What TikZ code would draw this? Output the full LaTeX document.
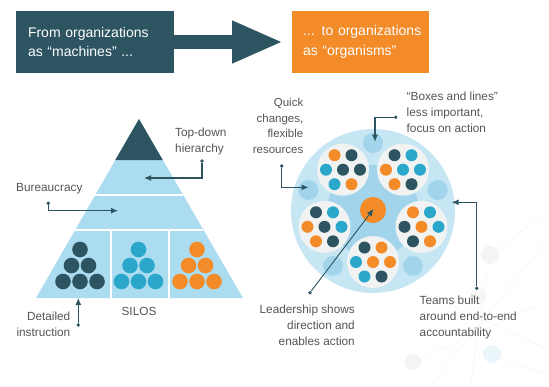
\documentclass[tikz,border=0pt]{standalone}
\usepackage{fontspec}
\setmainfont{Liberation Sans}
\usetikzlibrary{positioning,arrows.meta}

\definecolor{slate}{HTML}{2C5461}
\definecolor{orgorange}{HTML}{F28B28}
\definecolor{orgteal}{HTML}{2BA7CB}
\definecolor{pyrblue}{HTML}{ABDCEF}
\definecolor{rimblue}{HTML}{C6E6F4}
\definecolor{coreblue}{HTML}{A2D4EB}
\definecolor{teamgrey}{HTML}{F1F2F2}
\definecolor{labelgrey}{HTML}{555555}

\tikzset{
  headbox/.style={rectangle, minimum height=62pt, text=white, align=left,
    font=\fontsize{14}{19.5}\selectfont, inner ysep=0pt},
  bigarrow/.style={slate, line width=14pt, -{Triangle[length=51pt,width=39pt]}, shorten >=8.7pt},
  lbl/.style={text=labelgrey, font=\fontsize{11.8}{16}\selectfont, inner sep=0pt},
  pin/.style={circle, fill=slate, inner sep=0pt, minimum size=3.8pt},
  pointer/.style={draw=slate, line width=1.1pt, -{Latex[length=7pt,width=6pt]}},
  sep/.style={draw=white, line width=1.2pt}
}

% one team: centre, then seven dot colours (row by row)
\newcommand{\teamdots}[8]{%
  \fill[teamgrey] (#1) circle (26pt);
  \begin{scope}[shift={(#1)}]
    \fill[#2] (-8.5,-14.5) circle (6pt);
    \fill[#3] (8.5,-14.5) circle (6pt);
    \fill[#4] (-17,0) circle (6pt);
    \fill[#5] (0,0) circle (6pt);
    \fill[#6] (17,0) circle (6pt);
    \fill[#7] (-8.5,14.5) circle (6pt);
    \fill[#8] (8.5,14.5) circle (6pt);
  \end{scope}}

\begin{document}
\begin{tikzpicture}[x=1pt,y=-1pt]
\fill[white] (0,0) rectangle (549,386);
\useasboundingbox (0,0) rectangle (549,386);

% faint network in the background
\begin{scope}[gray!7, line width=0.6pt]
\draw (430,386) -- (549,238);
\draw (470,386) -- (490,255) -- (549,210);
\draw (413,362) -- (549,300);
\draw (492,354) -- (549,376);
\draw (440,300) -- (549,350);
\fill[gray!9] (490,255) circle (9pt);
\fill[gray!9] (413,362) circle (8pt);
\fill[gray!7] (478,296) circle (8pt);
\fill[orgteal!10] (492,354) circle (9pt);
\end{scope}

% header
\node[headbox, fill=slate, minimum width=158pt, text width=134pt, inner xsep=12pt] (machines) at (95,42)
  {\mbox{From organizations}\\\mbox{as “machines” ...}};
\node[headbox, fill=orgorange, minimum width=137pt, text width=115pt, inner xsep=11pt] (organisms) at (360.5,42)
  {\mbox{... to organizations}\\\mbox{as “organisms”}};
\draw[bigarrow] (machines) -- (organisms);

% pyramid
\fill[pyrblue] (139,119) -- (36,298) -- (243,298) -- cycle;
\fill[slate] (139,119) -- (115.3,160) -- (162.7,160) -- cycle;
\draw[sep] (95.1,195) -- (182.9,195);
\draw[sep] (74.8,230) -- (203.2,230);
\draw[sep] (111,230) -- (111,298);
\draw[sep] (169,230) -- (169,298);
\foreach \cx/\col in {80/slate,138.5/orgteal,197/orgorange}
  \foreach \dx/\dy in {0/249.5,-8.5/265.5,8.5/265.5,-17/281.5,0/281.5,17/281.5}
    \fill[\col] (\cx+\dx,\dy) circle (7.8pt);

% organism
\fill[rimblue] (373,211) circle (82pt);
\fill[coreblue] (373,211) circle (46pt);
\foreach \bx/\by in {373/143,437.7/190,308.3/190,333/266,413/266}
  \fill[coreblue] (\bx,\by) circle (10pt);
\coordinate (teamtl) at (343,169.7);
\coordinate (teamtr) at (403,169.7);
\coordinate (teaml)  at (324.5,226.8);
\coordinate (teamr)  at (421.5,226.8);
\coordinate (teamb)  at (373,262);
\teamdots{teamtl}{orgorange}{slate}{orgteal}{slate}{slate}{orgteal}{orgorange}
\teamdots{teamtr}{slate}{orgteal}{orgorange}{orgteal}{orgteal}{orgorange}{slate}
\teamdots{teaml}{slate}{orgteal}{orgorange}{slate}{orgteal}{orgorange}{slate}
\teamdots{teamr}{orgorange}{orgteal}{slate}{orgorange}{orgteal}{slate}{orgorange}
\teamdots{teamb}{slate}{orgorange}{orgteal}{orgorange}{orgorange}{orgteal}{slate}
\fill[orgorange] (373,210) circle (13pt);

% labels
\node[lbl, anchor=west, align=left] (topdown) at (175,141.5) {Top-down\\hierarchy};
\node[lbl, anchor=west] (bureau) at (16,189) {Bureaucracy};
\node[lbl, anchor=east, align=right] (detailed) at (70.5,324.5) {Detailed\\instruction};
\node[lbl] (silos) at (139,311.5) {SILOS};
\node[lbl, anchor=east, align=right, font=\fontsize{11.5}{15.5}\selectfont] (quick) at (303.5,126)
  {Quick\\changes,\\flexible\\resources};
\node[lbl, anchor=west, align=left] (boxes) at (406.5,112) {“Boxes and lines”\\less important,\\focus on action};
\node[lbl, anchor=west, align=left] (teams) at (419.5,317.5) {Teams built\\around end-to-end\\accountability};
\node[lbl, anchor=east, align=right] (leader) at (355,325) {Leadership shows\\direction and\\enables action};

% pointers
\node[pin] (topdownpin) at (202,161) {};
\coordinate (topdowntip) at (144,178);
\draw[pointer] (topdownpin) |- (topdowntip);

\node[pin] (bureaupin) at (48.3,203.3) {};
\coordinate (bureautip) at (118,210.7);
\draw[pointer] (bureaupin) |- (bureautip);

\node[pin] (detailedpin) at (78.3,325) {};
\coordinate (detailedtip) at (78.3,298);
\draw[pointer] (detailedpin) -- (detailedtip);

\node[pin] (quickpin) at (281.7,166) {};
\coordinate (quicktip) at (308.5,187.3);
\draw[pointer] (quickpin) |- (quicktip);

\node[pin] (boxespin) at (395.7,117.3) {};
\coordinate (boxestip) at (375,141.7);
\draw[pointer] (boxespin) -| (boxestip);

\node[pin] (teamspin) at (476.7,288.3) {};
\coordinate (teamstip) at (451.7,202.3);
\draw[pointer] (teamspin) |- (teamstip);

\node[pin] (leaderpin) at (310,292.7) {};
\coordinate (leadertip) at (373.5,209);
\draw[pointer, line width=0.9pt] (leaderpin) -- (leadertip);
\end{tikzpicture}
\end{document}
